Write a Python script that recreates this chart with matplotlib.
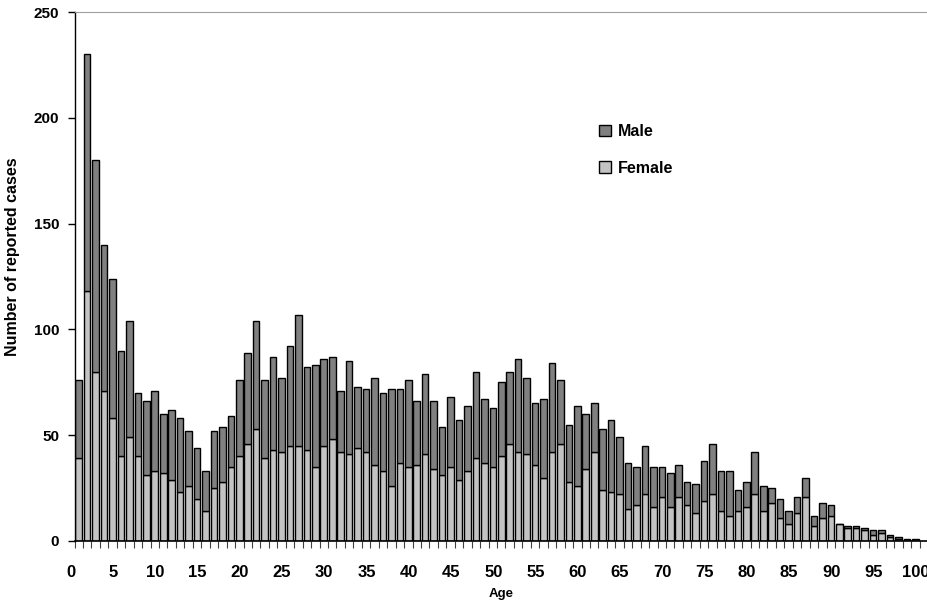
import matplotlib
matplotlib.use('Agg')
import matplotlib.pyplot as plt
import matplotlib.transforms as mtransforms
import numpy as np

plt.rcParams['font.family'] = ['Liberation Sans', 'DejaVu Sans']

# ---------------------------
# data: reported cases by age
# ---------------------------
ages = list(range(0, 100))

female = [39, 118, 80, 71, 58, 40, 49, 40, 31, 33,
          32, 29, 23, 26, 20, 14, 25, 28, 35, 40,
          46, 53, 39, 43, 42, 45, 45, 43, 35, 45,
          48, 42, 41, 44, 42, 36, 33, 26, 37, 35,
          36, 41, 34, 31, 35, 29, 33, 39, 37, 35,
          40, 46, 42, 41, 36, 30, 42, 46, 28, 26,
          34, 42, 24, 23, 22, 15, 17, 22, 16, 21,
          16, 21, 17, 13, 19, 22, 14, 12, 14, 16,
          22, 14, 18, 11, 8, 13, 21, 7, 11, 12,
          8, 6, 6, 5, 3, 4, 2, 1, 0, 0]

male = [37, 112, 100, 69, 66, 50, 55, 30, 35, 38,
        28, 33, 35, 26, 24, 19, 27, 26, 24, 36,
        43, 51, 37, 44, 35, 47, 62, 39, 48, 41,
        39, 29, 44, 29, 30, 41, 37, 46, 35, 41,
        30, 38, 32, 23, 33, 28, 31, 41, 30, 28,
        35, 34, 44, 36, 29, 37, 42, 30, 27, 38,
        26, 23, 29, 34, 27, 22, 18, 23, 19, 14,
        16, 15, 11, 14, 19, 24, 19, 21, 10, 12,
        20, 12, 7, 9, 6, 8, 9, 5, 7, 5,
        0, 1, 1, 1, 2, 1, 1, 1, 1, 1]

xtick_vals = list(range(0, 101, 5))
ytick_vals = [0, 50, 100, 150, 200, 250]

male_color = '#808080'
female_color = '#c3c3c3'

fig = plt.figure(figsize=(9.28, 6.06), dpi=100)
ax = fig.add_axes([74.5 / 928, 65 / 606, 853.5 / 928, 529 / 606])

ax.bar(ages, female, width=0.78, color=female_color, edgecolor='black', linewidth=1.0, label='Female')
ax.bar(ages, male, width=0.78, bottom=female, color=male_color, edgecolor='black', linewidth=1.0, label='Male')

ax.set_xlim(-0.5, 100.5)
ax.set_ylim(0, 250)

# spines
ax.spines['right'].set_visible(False)
ax.spines['top'].set_color('#a0a0a0')
ax.spines['top'].set_linewidth(0.8)
ax.spines['left'].set_linewidth(1.0)
ax.spines['bottom'].set_linewidth(1.2)

# y axis
ax.set_yticks(ytick_vals)
ax.set_yticklabels([str(v) for v in ytick_vals], fontsize=11, fontweight='bold')
ax.tick_params(axis='y', direction='out', length=5, width=1, pad=6)

# x axis: small ticks between categories, labels every 5
ax.set_xticks(xtick_vals)
ax.set_xticklabels([str(v) for v in xtick_vals], fontsize=12, fontweight='bold')
ax.set_xticks(np.arange(-0.5, 101, 1), minor=True)
ax.tick_params(axis='x', which='major', length=0, pad=17)
ax.tick_params(axis='x', which='minor', direction='out', length=5, width=0.8, color='#404040')

shift = mtransforms.ScaledTranslation(-0.08, 0, fig.dpi_scale_trans)
for lab in ax.get_xticklabels():
    lab.set_transform(lab.get_transform() + shift)

ax.set_xlabel('Age', fontsize=9.5, fontweight='bold', labelpad=6)
ax.set_ylabel('Number of reported cases', fontsize=11.5, fontweight='bold')
ax.yaxis.set_label_coords(-0.064, 0.537)

handles, labels = ax.get_legend_handles_labels()
leg = ax.legend(handles[::-1], labels[::-1], loc='upper left',
                bbox_to_anchor=(599 / 928, (606 - 124) / 606), bbox_transform=fig.transFigure,
                frameon=False, handlelength=0.75, handleheight=0.75, handletextpad=0.45,
                labelspacing=1.35, borderpad=0, borderaxespad=0,
                prop={'size': 11.5, 'weight': 'bold'})

fig.savefig('out.png', dpi=100)
